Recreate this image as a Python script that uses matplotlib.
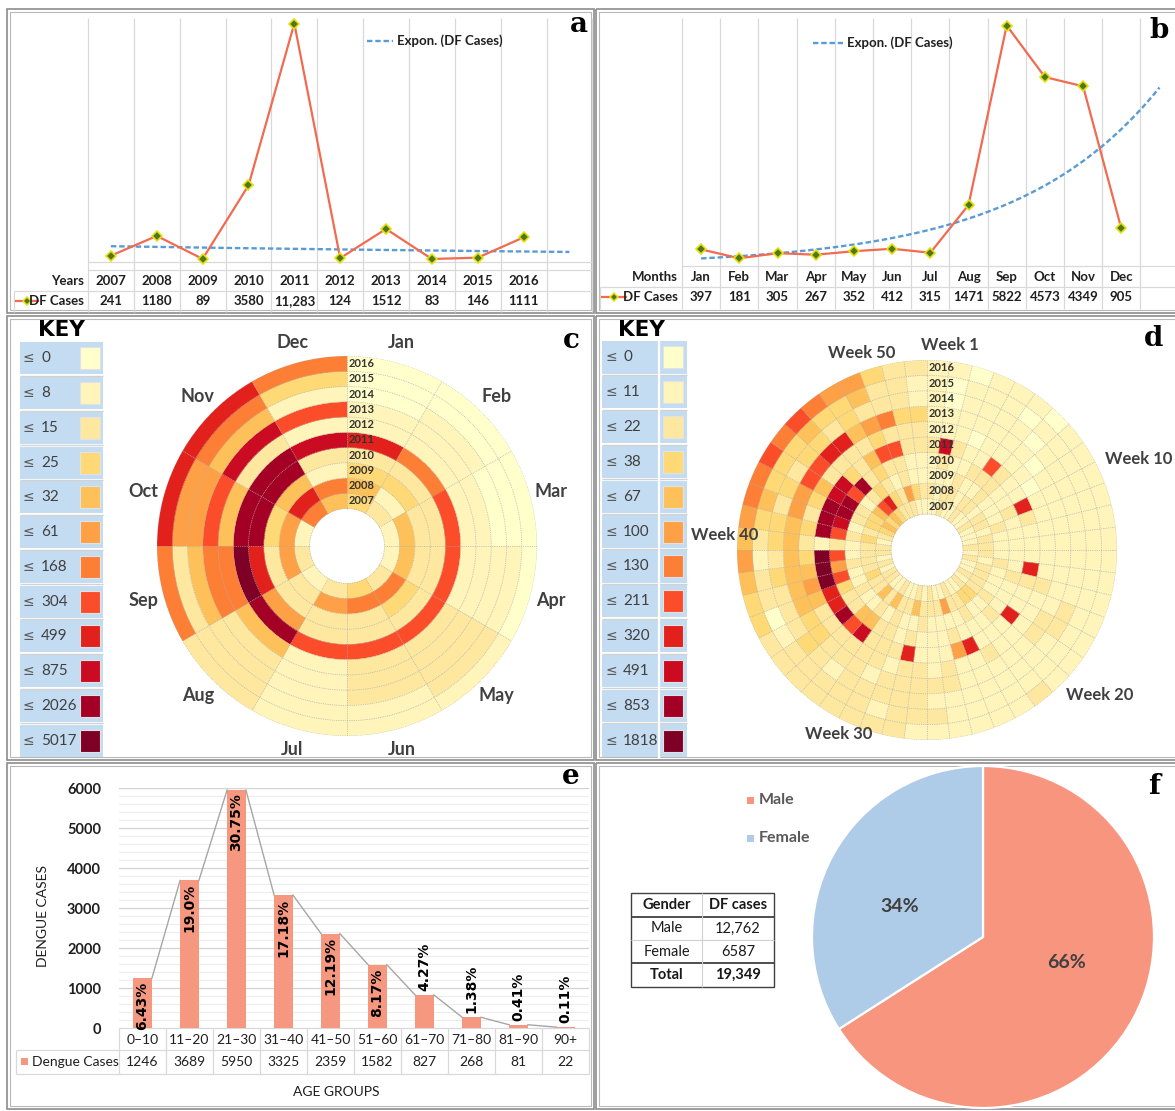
import numpy as np
import matplotlib
matplotlib.use("Agg")
import matplotlib.pyplot as plt
from matplotlib.patches import Rectangle

plt.rcParams["font.family"] = ["Lato", "DejaVu Sans"]

W, H = 1175, 1111

# ------------------------------------------------------------------ data
years = ["2007", "2008", "2009", "2010", "2011", "2012", "2013", "2014", "2015", "2016"]
df_cases_year = [241, 1180, 89, 3580, 11283, 124, 1512, 83, 146, 1111]

months = ["Jan", "Feb", "Mar", "Apr", "May", "Jun", "Jul", "Aug", "Sep", "Oct", "Nov", "Dec"]
df_cases_month = [397, 181, 305, 267, 352, 412, 315, 1471, 5822, 4573, 4349, 905]

# upper bounds of the colour classes
monthly_key = [0, 8, 15, 25, 32, 61, 168, 304, 499, 875, 2026, 5017]
weekly_key = [0, 11, 22, 38, 67, 100, 130, 211, 320, 491, 853, 1818]

# colour class (index into the key) for every year (rows, 2007..2016) and month
monthly_class = [
    [3, 2, 1, 1, 2, 3, 2, 1, 2, 1, 6, 4],
    [4, 1, 4, 4, 6, 6, 5, 2, 5, 5, 8, 6],
    [3, 3, 2, 2, 3, 2, 2, 2, 2, 3, 4, 1],
    [2, 2, 2, 2, 2, 2, 2, 5, 8, 10, 10, 2],
    [8, 6, 7, 7, 7, 7, 7, 10, 11, 10, 10, 9],
    [1, 1, 1, 1, 2, 2, 1, 4, 6, 4, 2, 1],
    [1, 1, 1, 1, 2, 2, 1, 2, 6, 7, 9, 7],
    [0, 1, 0, 1, 2, 2, 1, 2, 4, 5, 4, 1],
    [0, 0, 0, 1, 2, 1, 1, 2, 2, 5, 6, 3],
    [0, 0, 0, 0, 1, 1, 1, 2, 6, 8, 8, 6],
]

# colour class for every year (rows, 2007..2016) and epidemiological week 1..52
weekly_class = [
    [1, 1, 2, 1, 1, 2, 1, 1, 2, 1, 1, 1, 2, 1, 2, 1, 1, 2, 1, 2, 1, 1, 2, 1, 1, 2,
     1, 2, 1, 1, 2, 1, 1, 2, 2, 1, 2, 1, 2, 2, 1, 2, 3, 4, 3, 4, 3, 2, 2, 2, 1, 1],
    [2, 1, 2, 2, 1, 2, 2, 1, 2, 2, 1, 2, 2, 2, 1, 2, 2, 2, 2, 3, 3, 2, 2, 5, 2, 2,
     2, 4, 2, 2, 4, 2, 4, 2, 2, 3, 2, 2, 2, 2, 3, 2, 3, 3, 4, 7, 8, 3, 2, 5, 3, 2],
    [1, 1, 1, 2, 1, 1, 2, 1, 1, 1, 2, 1, 1, 1, 2, 1, 1, 1, 2, 1, 1, 2, 1, 1, 1, 1,
     2, 1, 1, 2, 1, 2, 1, 1, 2, 1, 1, 2, 1, 1, 2, 1, 2, 2, 1, 2, 3, 2, 1, 2, 1, 1],
    [1, 2, 1, 1, 2, 2, 2, 1, 1, 2, 1, 1, 1, 1, 1, 2, 1, 1, 1, 2, 1, 1, 1, 2, 1, 1,
     1, 2, 1, 2, 2, 4, 4, 2, 2, 3, 7, 5, 7, 2, 7, 9, 10, 10, 7, 10, 2, 3, 2, 2, 1, 1],
    [2, 9, 2, 1, 1, 7, 2, 1, 1, 8, 2, 1, 1, 1, 8, 2, 1, 1, 8, 1, 1, 1, 8, 5, 1, 1,
     1, 8, 2, 2, 2, 9, 7, 10, 8, 8, 11, 11, 11, 1, 10, 10, 10, 9, 9, 3, 2, 4, 7, 7, 2, 2],
    [1, 1, 1, 0, 1, 1, 1, 1, 0, 1, 1, 1, 1, 1, 1, 2, 1, 1, 1, 1, 1, 2, 1, 1, 2, 1,
     2, 2, 1, 2, 2, 2, 2, 2, 2, 4, 5, 4, 3, 2, 3, 2, 3, 4, 2, 2, 2, 2, 3, 2, 2, 2],
    [1, 1, 1, 1, 1, 1, 1, 0, 1, 1, 1, 1, 1, 1, 1, 1, 1, 2, 2, 1, 1, 1, 1, 1, 2, 2,
     2, 2, 2, 1, 2, 2, 2, 3, 3, 4, 4, 4, 4, 4, 4, 5, 5, 7, 7, 8, 8, 4, 5, 6, 3, 3],
    [1, 0, 1, 1, 1, 1, 0, 1, 1, 1, 1, 1, 1, 1, 1, 1, 2, 2, 1, 1, 1, 1, 1, 1, 1, 1,
     2, 2, 2, 2, 2, 1, 2, 3, 2, 2, 2, 3, 2, 3, 3, 2, 3, 2, 3, 3, 2, 3, 2, 2, 2, 1],
    [1, 0, 1, 1, 1, 0, 1, 1, 1, 1, 1, 1, 1, 1, 1, 1, 1, 1, 1, 1, 1, 1, 1, 1, 1, 2,
     2, 2, 1, 2, 2, 2, 2, 2, 1, 0, 2, 2, 1, 2, 3, 4, 3, 3, 3, 4, 3, 3, 4, 2, 2, 1],
    [1, 1, 0, 1, 1, 1, 0, 1, 1, 1, 1, 1, 1, 1, 1, 1, 1, 1, 1, 1, 2, 1, 1, 1, 1, 1,
     1, 2, 2, 2, 2, 2, 2, 2, 2, 3, 3, 4, 5, 4, 5, 6, 6, 7, 6, 7, 6, 5, 5, 3, 2, 2],
]
week_labels = [1, 10, 20, 30, 40, 50]

age_groups = ["0–10", "11–20", "21–30", "31–40", "41–50", "51–60", "61–70", "71–80", "81–90", "90+"]
dengue_cases = [1246, 3689, 5950, 3325, 2359, 1582, 827, 268, 81, 22]
age_share = ["6.43%", "19.0%", "30.75%", "17.18%", "12.19%", "8.17%", "4.27%", "1.38%", "0.41%", "0.11%"]

genders = ["Male", "Female"]
gender_cases = [12762, 6587]

# ------------------------------------------------------------------ style
PALETTE = ["#FFFFCC", "#FFF4BA", "#FEE8A0", "#FED976", "#FEC15A", "#FDA046",
           "#FD7E35", "#FB4D29", "#E3211C", "#CB0B22", "#A40026", "#7E0026"]
LINE_RED = "#F26A4F"
TREND_BLUE = "#5B9BD5"
MARK_GREEN = "#4E7A16"
MARK_YELLOW = "#E9DE12"
BAR_SALMON = "#F6977F"
MALE_COLOR = "#F8957F"
FEMALE_COLOR = "#AECBE8"
GRID = "#D9D9D9"
DOT = "#ABABAB"
KEY_BLUE = "#C4DCF1"
TXT = "#1F1F1F"
LAB = "#404040"

fig = plt.figure(figsize=(W / 100, H / 100), dpi=100)
fig.patch.set_facecolor("white")

# full-figure pixel canvas for frames, tables, keys and free text
ov = fig.add_axes([0, 0, 1, 1], zorder=0)
ov.set_xlim(0, W)
ov.set_ylim(H, 0)
ov.axis("off")


def frac(x0, y0, x1, y1):
    return [x0 / W, 1 - y1 / H, (x1 - x0) / W, (y1 - y0) / H]


def hline(y, x0, x1, **kw):
    ov.plot([x0, x1], [y, y], solid_capstyle="butt", **kw)


def vline(x, y0, y1, **kw):
    ov.plot([x, x], [y0, y1], solid_capstyle="butt", **kw)


def fmt_count(v):
    return f"{v:,}" if v >= 10000 else str(v)


# ------------------------------------------------------------------ panel frames
for (x0, y0, x1, y1) in [(7, 9, 594, 313), (596, 9, 1180, 313),
                         (7, 316, 594, 760), (596, 316, 1180, 760),
                         (7, 763, 594, 1109), (596, 763, 1180, 1109)]:
    ov.add_patch(Rectangle((x0, y0), x1 - x0, y1 - y0, fill=False, ec="#8C8C8C", lw=1.2))
    ov.add_patch(Rectangle((x0 + 3, y0 + 3), x1 - x0 - 6, y1 - y0 - 6, fill=False, ec="#B8B8B8", lw=0.8))


# ------------------------------------------------------------------ panels a, b
def line_panel(cats, vals, header, x0, colw, x_right, y_top, y_axis, ylim,
               grid_top, strip_y, row_y, row_left, bottom_y, head_y, val_y,
               sample_x, leg_x, leg_y):
    ax = fig.add_axes(frac(x0, y_top, x_right, y_axis), zorder=2)
    ax.set_xlim(0, (x_right - x0) / colw)
    ax.set_ylim(*ylim)
    ax.axis("off")
    n = len(vals)
    xs = np.arange(n) + 0.5
    # exponential trend line, fitted on the log of the counts, one period ahead
    k = np.arange(1, n + 1)
    slope, icpt = np.polyfit(k, np.log(vals), 1)
    t = np.linspace(1, n + 1, 300)
    ax.plot(t - 0.5, np.exp(icpt + slope * t), color=TREND_BLUE, lw=1.7,
            dashes=(2.3, 1.2), zorder=3, clip_on=False)
    ax.plot(xs, vals, color=LINE_RED, lw=1.6, zorder=4, clip_on=False)
    ax.plot(xs, vals, ls="none", marker="D", ms=4.6, mfc=MARK_GREEN,
            mec=MARK_YELLOW, mew=1.2, zorder=5, clip_on=False)

    # category grid and data table
    kk = 0
    while x0 + kk * colw <= x_right + 0.5:
        vline(x0 + kk * colw, grid_top, bottom_y, color=GRID, lw=0.9)
        kk += 1
    for yy in strip_y:
        hline(yy, x0, x_right, color=GRID, lw=0.9)
    hline(row_y, row_left, x_right, color=GRID, lw=0.9)
    vline(row_left, row_y, bottom_y, color=GRID, lw=0.9)

    ov.text(x0 - 4, head_y, header, ha="right", va="center", fontsize=9.5,
            weight="bold", color=TXT)
    ov.text(x0 - 4, val_y, "DF Cases", ha="right", va="center", fontsize=9.5,
            weight="bold", color=TXT)
    ov.plot(sample_x, [val_y, val_y], color=LINE_RED, lw=1.6)
    ov.plot([np.mean(sample_x)], [val_y], marker="D", ms=4.2, mfc=MARK_GREEN,
            mec=MARK_YELLOW, mew=1.1)
    for i, (c, v) in enumerate(zip(cats, vals)):
        cx = x0 + (i + 0.5) * colw
        ov.text(cx, head_y, c, ha="center", va="center", fontsize=9.5,
                weight="bold", color=TXT)
        ov.text(cx, val_y, fmt_count(v), ha="center", va="center", fontsize=9.5,
                weight="bold", color=TXT)

    ov.plot(leg_x, [leg_y, leg_y], color=TREND_BLUE, lw=1.7, dashes=(2.3, 1.2))
    ov.text(leg_x[1] + 4, leg_y, "Expon. (DF Cases)", ha="left", va="center",
            fontsize=9.5, weight="bold", color=TXT)


line_panel(years, df_cases_year, "Years", 88, 45.85, 592.4, 14, 262, (-60, 11735),
           18, [262, 270], 291, 14, 312, 281, 301, [16, 38], [367, 393], 41)
line_panel(months, df_cases_month, "Months", 682, 38.2, 1175, 14, 266, (-6, 6101),
           18, [266], 287, 600, 309, 277, 297, [602, 626], [813, 843], 43)


# ------------------------------------------------------------------ panels c, d
def key_panel(thresholds, x0, x1, y0, y1, le_x, num_x, sw_x0, sw_x1, split_x=None):
    n = len(thresholds)
    rh = (y1 - y0) / n
    for i, t in enumerate(thresholds):
        top = y0 + i * rh
        ov.add_patch(Rectangle((x0, top + 1.3), x1 - x0, rh - 2.6, fc=KEY_BLUE, ec="none"))
        if i:
            hline(top, x0, x1, color="#D2D2D2", lw=1.0)
        ov.text(le_x, top + rh / 2, "≤", ha="left", va="center", fontsize=10,
                color="#595959", family=["DejaVu Sans"])
        ov.text(num_x, top + rh / 2, str(t), ha="left", va="center", fontsize=11,
                color=LAB)
        ov.add_patch(Rectangle((sw_x0, top + rh / 2 - 11), sw_x1 - sw_x0, 22,
                               fc=PALETTE[i], ec="#E2E2E2", lw=0.8))
    if split_x is not None:
        vline(split_x, y0, y1, color="white", lw=1.6)


def polar_panel(classes, cx, cy, r_out, r_in):
    ax = fig.add_axes(frac(cx - r_out, cy - r_out, cx + r_out, cy + r_out),
                      projection="polar", zorder=2)
    ax.set_theta_zero_location("N")
    ax.set_theta_direction(-1)
    ax.set_ylim(0, r_out)
    ax.set_axis_off()
    cls = np.asarray(classes)
    n_ring, n_sec = cls.shape
    rw = (r_out - r_in) / n_ring
    sw = 2 * np.pi / n_sec
    th = (np.arange(n_sec) + 0.5) * sw
    for k in range(n_ring):
        cols = [PALETTE[c] for c in cls[k]]
        ax.bar(th, rw, width=sw, bottom=r_in + k * rw, color=cols,
               edgecolor=cols, linewidth=0.3, zorder=2)
    tt = np.linspace(0, 2 * np.pi, 900)
    for k in range(n_ring + 1):
        ax.plot(tt, np.full_like(tt, r_in + k * rw), color=DOT, lw=0.55,
                ls=(0, (1, 1.4)), zorder=3)
    for s in range(n_sec):
        ax.plot([s * sw, s * sw], [r_in, r_out], color=DOT, lw=0.55,
                ls=(0, (1, 1.4)), zorder=3)
    for k, name in enumerate(years):
        ax.annotate(name, xy=(0, r_in + (k + 0.5) * rw), xytext=(1.2, 0),
                    textcoords="offset points", ha="left", va="center",
                    fontsize=8, weight="bold", color="#333333", zorder=5,
                    annotation_clip=False)
    return ax, sw


# panel c : months x years
ov.text(61, 330, "KEY", ha="center", va="center", fontsize=15.5, weight="heavy",
        color="black", family=["DejaVu Sans"])
key_panel(monthly_key, 20, 103, 341, 758, 23, 41, 80, 100)
axc, swc = polar_panel(monthly_class, 347, 546, 190, 37.5)
for i, m in enumerate(months):
    axc.text((i + 0.5) * swc, 211, m, ha="center", va="center", fontsize=13,
             weight="bold", color=LAB)

# panel d : weeks x years
ov.text(641, 330, "KEY", ha="center", va="center", fontsize=15.5, weight="heavy",
        color="black", family=["DejaVu Sans"])
key_panel(weekly_key, 602, 687, 340, 758, 606, 623, 663, 683, split_x=659)
axd, swd = polar_panel(weekly_class, 927, 550, 190, 36)
week_label_r = [206, 230, 226, 204, 203, 207]
week_label_shift = [3.0, 1.0, -5.0, 1.5, 0.7, -1.0]
for w, r, sh in zip(week_labels, week_label_r, week_label_shift):
    axd.text((w - 0.5) * swd + np.deg2rad(sh), r, f"Week {w}", ha="center",
             va="center", fontsize=12, weight="bold", color=LAB)

# ------------------------------------------------------------------ panel e
axe = fig.add_axes(frac(119, 788, 589, 1028), zorder=2)
xs = np.arange(len(dengue_cases))
bw = 0.4
axe.bar(xs, dengue_cases, width=bw, color=BAR_SALMON, zorder=3)
for i in range(len(xs) - 1):
    axe.plot([xs[i] + bw / 2, xs[i + 1] - bw / 2], [dengue_cases[i], dengue_cases[i + 1]],
             color="#A6A6A6", lw=1.0, zorder=4)
axe.set_xlim(-0.5, len(xs) - 0.5)
axe.set_ylim(0, 6000)
axe.set_yticks(np.arange(0, 6001, 1000))
axe.set_yticks(np.arange(0, 6001, 200), minor=True)
axe.grid(axis="y", which="minor", color="#ECECEC", lw=0.7, zorder=0)
axe.grid(axis="y", which="major", color="#D3D3D3", lw=0.9, zorder=0)
axe.set_axisbelow(True)
axe.set_xticks([])
for s in axe.spines.values():
    s.set_visible(False)
axe.tick_params(axis="y", which="both", length=0, pad=13)
for lab in axe.get_yticklabels():
    lab.set_fontweight("bold")
    lab.set_fontsize(10.5)
    lab.set_color(TXT)
for x, v, s in zip(xs, dengue_cases, age_share):
    inside = v >= 1000
    axe.annotate(s, xy=(x, v), xytext=(0, -2.5 if inside else 3),
                 textcoords="offset points", rotation=90, ha="center",
                 va="top" if inside else "bottom", fontsize=10, weight="bold",
                 color="black", family=["DejaVu Sans"], zorder=5,
                 annotation_clip=False)

colw_e = (589 - 119) / len(dengue_cases)
hline(1028, 119, 589, color=GRID, lw=0.9)
hline(1050, 16, 589, color=GRID, lw=0.9)
hline(1074, 16, 589, color=GRID, lw=0.9)
vline(16, 1050, 1074, color=GRID, lw=0.9)
for k in range(len(dengue_cases) + 1):
    vline(119 + k * colw_e, 1028, 1074, color=GRID, lw=0.9)
for i, (g, v) in enumerate(zip(age_groups, dengue_cases)):
    cx = 119 + (i + 0.5) * colw_e
    ov.text(cx, 1039.5, g, ha="center", va="center", fontsize=10, color=TXT)
    ov.text(cx, 1062, str(v), ha="center", va="center", fontsize=10, color=TXT)
ov.add_patch(Rectangle((21, 1058), 7, 7, fc=BAR_SALMON, ec="none"))
ov.text(32, 1062, "Dengue Cases", ha="left", va="center", fontsize=10, color=TXT)

ov.add_patch(Rectangle((444, 869), 9, 9, fc=BAR_SALMON, ec="none"))
ov.text(457, 873.5, "Dengue Cases", ha="left", va="center", fontsize=11, color=LAB)
ov.text(43, 916, "DENGUE CASES", ha="center", va="center", rotation=90,
        fontsize=10, color=TXT)
ov.text(336, 1092, "AGE GROUPS", ha="center", va="center", fontsize=10, color=TXT)

# ------------------------------------------------------------------ panel f
axf = fig.add_axes(frac(983 - 171, 937 - 171, 983 + 171, 937 + 171), zorder=2)
wedges, _, autotexts = axf.pie(
    gender_cases, colors=[MALE_COLOR, FEMALE_COLOR], startangle=90,
    counterclock=False, autopct=lambda p: f"{p:.0f}%", pctdistance=0.52,
    wedgeprops=dict(edgecolor="white", linewidth=1.6),
    textprops=dict(fontsize=14, weight="bold", color=LAB))
# label placement inside the wedges
autotexts[0].set_position((0.49, -0.15))
autotexts[1].set_position((-0.49, 0.18))
axf.set_xlim(-1, 1)
axf.set_ylim(-1, 1)
axf.set_aspect("equal")
axf.axis("off")

for i, (g, c) in enumerate(zip(genders, [MALE_COLOR, FEMALE_COLOR])):
    yy = 800 + i * 38
    ov.add_patch(Rectangle((747, yy - 3.5), 7, 7, fc=c, ec="none"))
    ov.text(759, yy, g, ha="left", va="center", fontsize=11.5, weight="bold",
            color="#595959")

# gender table
tx0, tx1, tsplit = 631, 774, 702
ty = [893, 917, 940, 963, 987]
rows = [("Gender", "DF cases", True)]
rows += [(g, fmt_count(v), False) for g, v in zip(genders, gender_cases)]
rows += [("Total", fmt_count(sum(gender_cases)), True)]
ov.add_patch(Rectangle((tx0, ty[0]), tx1 - tx0, ty[-1] - ty[0], fill=False,
                       ec="#404040", lw=1.0))
hline(ty[1], tx0, tx1, color="#404040", lw=1.3)
hline(ty[2], tx0, tx1, color="#D0D0D0", lw=0.8)
hline(ty[3], tx0, tx1, color="#404040", lw=1.3)
vline(tsplit, ty[0], ty[-1], color="#D0D0D0", lw=0.8)
for r, (a, b, bold) in enumerate(rows):
    yc = (ty[r] + ty[r + 1]) / 2
    ov.text((tx0 + tsplit) / 2, yc, a, ha="center", va="center", fontsize=10.5,
            weight="bold" if bold else "normal", color="#1A1A1A")
    ov.text((tsplit + tx1) / 2, yc, b, ha="center", va="center", fontsize=10.5,
            weight="bold" if bold else "normal", color="#1A1A1A")

# ------------------------------------------------------------------ panel letters
for letter, x, y in [("a", 579, 24), ("b", 1159, 30), ("c", 571, 340),
                     ("d", 1154, 338), ("e", 571, 777), ("f", 1154, 786)]:
    ov.text(x, y, letter, ha="center", va="center", fontsize=20, weight="heavy",
            color="black", family=["DejaVu Serif"], zorder=10)

fig.savefig("out.png", dpi=100, facecolor="white")
